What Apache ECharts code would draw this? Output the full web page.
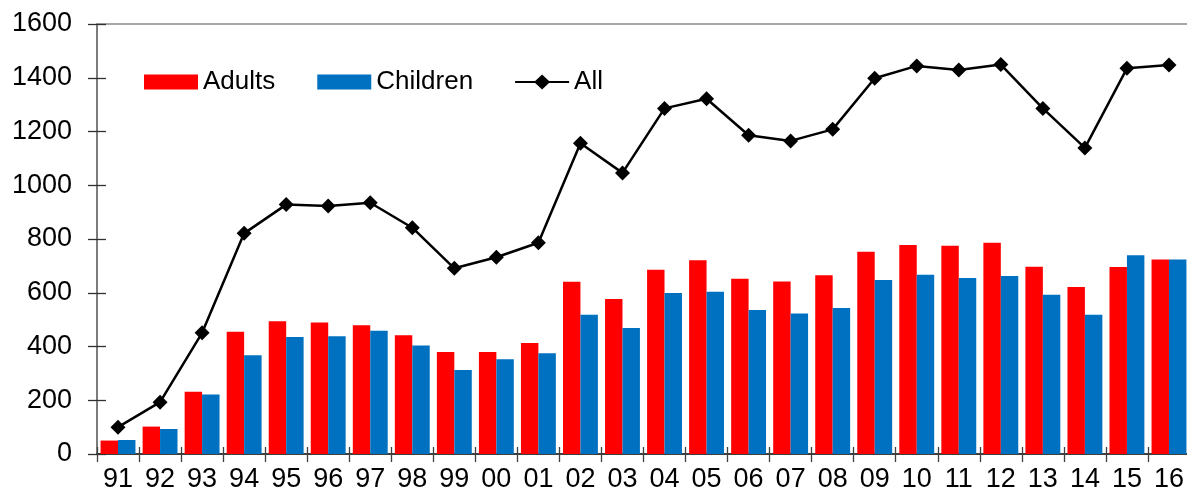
<!DOCTYPE html>
<html>
<head>
<meta charset="utf-8">
<script src="https://cdn.jsdelivr.net/npm/echarts@6/dist/echarts.min.js"></script>
<style>
html,body{margin:0;padding:0;background:#fff;}
#chart{width:1187px;height:487px;}
</style>
</head>
<body>
<div id="chart"></div>
<script>
var years = ['91','92','93','94','95','96','97','98','99','00','01','02','03','04','05','06','07','08','09','10','11','12','13','14','15','16'];
var adults = [50,102,232,455,494,489,479,442,380,380,413,641,577,686,721,652,642,665,753,778,775,786,697,621,696,724];
var children = [52,93,221,367,435,438,459,404,313,353,375,518,469,599,604,536,523,543,647,667,655,662,593,518,740,724];
var all = [100,193,451,821,928,923,935,842,691,732,786,1156,1046,1286,1322,1186,1165,1208,1398,1444,1429,1449,1286,1139,1435,1447];
var yTicks = [0,200,400,600,800,1000,1200,1400,1600];

var FONT = "Arial, 'Liberation Sans', sans-serif";
var chart = echarts.init(document.getElementById('chart'), null, {renderer:'canvas'});
chart.setOption({
  animation: false,
  backgroundColor: '#ffffff',
  textStyle: {fontFamily: FONT},
  grid: {left: 97, top: 24, width: 1093, bottom: 33, containLabel: false, outerBoundsMode: 'none'},
  legend: {
    left: 144, top: 69, padding: 0,
    itemWidth: 54, itemHeight: 15, itemGap: 42,
    textStyle: {fontFamily: FONT, fontSize: 26, color: '#000'},
    data: [
      {name: 'Adults', icon: 'rect'},
      {name: 'Children', icon: 'rect'},
      {name: 'All', icon: 'path://M0,6.5L54,6.5L54,8.5L0,8.5Z M27,0L35,7.5L27,15L19,7.5Z'}
    ]
  },
  xAxis: [
    {
      type: 'category', data: years, position: 'bottom',
      axisLine: {show: true, lineStyle: {color: '#000', width: 1.5}},
      axisTick: {show: true, inside: false, length: 8, lineStyle: {color: '#404040', width: 1.3}},
      axisLabel: {fontFamily: FONT, fontSize: 27, color: '#000', margin: 12, interval: 0},
      splitLine: {show: false}
    },
    {
      type: 'category', data: years, position: 'bottom',
      axisLine: {show: false},
      axisTick: {show: true, inside: true, length: 7, lineStyle: {color: '#404040', width: 1.3}},
      axisLabel: {show: false},
      splitLine: {show: false}
    },
    {
      type: 'category', data: years, position: 'top',
      axisLine: {show: true, lineStyle: {color: '#8a8a8a', width: 1.5}},
      axisTick: {show: false},
      axisLabel: {show: false},
      splitLine: {show: false}
    }
  ],
  yAxis: [
    {
      type: 'value', min: 0, max: 1600, interval: 200, position: 'left',
      axisLine: {show: true, lineStyle: {color: '#505050', width: 1.5}},
      axisTick: {show: true, inside: false, length: 9, lineStyle: {color: '#303030', width: 1.3}},
      axisLabel: {fontFamily: FONT, fontSize: 27, color: '#000', margin: 25,
        formatter: function (v) { return yTicks.indexOf(v) >= 0 ? String(v) : ''; }},
      splitLine: {show: false}
    },
    {
      type: 'value', min: 0, max: 1600, interval: 200, position: 'left',
      axisLine: {show: false},
      axisTick: {show: true, inside: true, length: 9, lineStyle: {color: '#303030', width: 1.3}},
      axisLabel: {show: false},
      splitLine: {show: false}
    }
  ],
  series: [
    {
      name: 'Adults', type: 'bar', data: adults, xAxisIndex: 0, yAxisIndex: 0,
      barGap: '0%', barCategoryGap: '17%',
      itemStyle: {color: '#ff0000'}
    },
    {
      name: 'Children', type: 'bar', data: children, xAxisIndex: 0, yAxisIndex: 0,
      barGap: '0%', barCategoryGap: '17%',
      itemStyle: {color: '#0070c0'}
    },
    {
      name: 'All', type: 'line', data: all, xAxisIndex: 0, yAxisIndex: 0,
      symbol: 'diamond', symbolSize: 15, showSymbol: true,
      lineStyle: {color: '#000', width: 2.5},
      itemStyle: {color: '#000'},
      z: 5
    }
  ]
});
</script>
</body>
</html>
